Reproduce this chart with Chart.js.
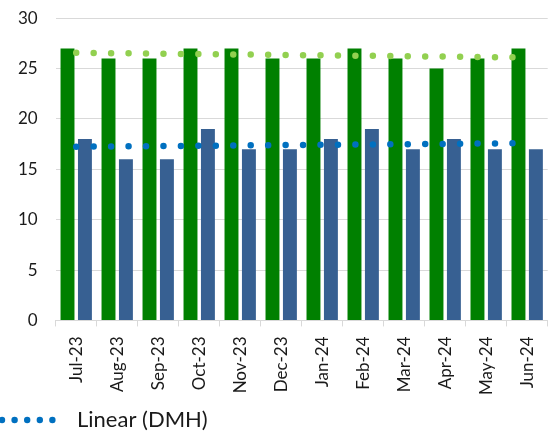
<!DOCTYPE html>
<html>
<head>
<meta charset="utf-8">
<script src="https://cdn.jsdelivr.net/npm/chart.js@4"></script>
<style>
  html, body { margin: 0; padding: 0; background: #fff; overflow: hidden; }
  canvas { display: block; margin-top: -10px; }
</style>
</head>
<body>
<canvas id="chart" width="558" height="443"></canvas>
<script>
const months = ['Jul-23', 'Aug-23', 'Sep-23', 'Oct-23', 'Nov-23', 'Dec-23',
                'Jan-24', 'Feb-24', 'Mar-24', 'Apr-24', 'May-24', 'Jun-24'];
const otherValues = [27, 26, 26, 27, 27, 26, 26, 27, 26, 25, 26, 27];
const dmhValues = [18, 16, 16, 19, 17, 17, 18, 19, 17, 18, 17, 17];
const yTicks = [0, 5, 10, 15, 20, 25, 30];

// least squares line, like the spreadsheet "Linear" trendline
function linearTrend(values) {
  const n = values.length;
  const mx = (n + 1) / 2;
  const my = values.reduce((a, b) => a + b, 0) / n;
  let sxy = 0, sxx = 0;
  values.forEach((v, i) => {
    sxy += (i + 1 - mx) * (v - my);
    sxx += (i + 1 - mx) * (i + 1 - mx);
  });
  const slope = sxy / sxx;
  return values.map((v, i) => my + slope * (i + 1 - mx));
}

const FONT = 'Lato, "Open Sans", sans-serif';

const bottomLegend = {
  id: 'bottomLegend',
  afterDraw(chart) {
    const ctx = chart.ctx;
    const ds = chart.data.datasets.find(d => d.label === 'Linear (DMH)');
    const y = chart.height - 13;
    ctx.save();
    ctx.fillStyle = ds.borderColor;
    for (let i = 0; i < 5; i++) {
      ctx.beginPath();
      ctx.arc(2 + i * 12.6, y, 3.2, 0, Math.PI * 2);
      ctx.fill();
    }
    ctx.fillStyle = '#1a1a1a';
    ctx.font = '22px ' + FONT;
    ctx.textBaseline = 'middle';
    ctx.fillText(ds.label, 77, y);
    ctx.restore();
  }
};

new Chart(document.getElementById('chart'), {
  type: 'bar',
  data: {
    labels: months,
    datasets: [
      {
        label: 'Linear (Other)',
        type: 'line',
        data: linearTrend(otherValues),
        borderColor: '#92d050',
        borderWidth: 6.5,
        borderDash: [0, 17.45],
        borderCapStyle: 'round',
        pointRadius: 0,
        fill: false,
        order: 0,
      },
      {
        label: 'Linear (DMH)',
        type: 'line',
        data: linearTrend(dmhValues),
        borderColor: '#0070c0',
        borderWidth: 6.5,
        borderDash: [0, 17.45],
        borderCapStyle: 'round',
        pointRadius: 0,
        fill: false,
        order: 0,
      },
      {
        label: 'Other',
        data: otherValues,
        backgroundColor: '#008000',
        categoryPercentage: 0.85,
        barPercentage: 0.8,
        order: 1,
      },
      {
        label: 'DMH',
        data: dmhValues,
        backgroundColor: '#376092',
        categoryPercentage: 0.85,
        barPercentage: 0.8,
        order: 1,
      },
    ],
  },
  options: {
    responsive: false,
    animation: false,
    layout: { padding: { left: 0, right: 10, top: 1, bottom: 28 } },
    plugins: {
      legend: { display: false },
      tooltip: { enabled: false },
    },
    scales: {
      x: {
        grid: {
          display: true,
          drawOnChartArea: false,
          drawTicks: true,
          tickLength: 6,
          color: '#d9d9d9',
        },
        border: { display: true, color: '#d9d9d9' },
        ticks: {
          minRotation: 90,
          maxRotation: 90,
          padding: 10,
          color: '#1a1a1a',
          font: { family: FONT, size: 17 },
        },
      },
      y: {
        min: 0,
        max: 30,
        afterBuildTicks(axis) {
          axis.ticks = yTicks.map(v => ({ value: v }));
        },
        grid: { color: '#d9d9d9', drawTicks: false },
        border: { display: false },
        ticks: {
          padding: 18,
          color: '#1a1a1a',
          font: { family: FONT, size: 17 },
        },
      },
    },
  },
  plugins: [bottomLegend],
});
</script>
</body>
</html>
